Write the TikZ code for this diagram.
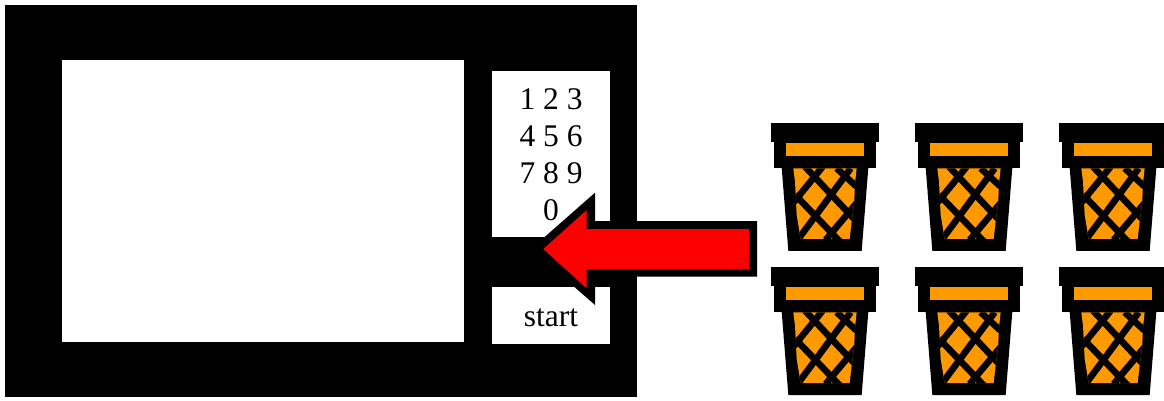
\documentclass[tikz,border=0pt]{standalone}
\usepackage{fontspec}
\setmainfont{Liberation Serif}
\definecolor{basketorange}{HTML}{FF9900}
\tikzset{
  panelfill/.style={fill=white,draw=none},
  label/.style={anchor=base,inner sep=0pt,font=\fontsize{31.5}{36}\selectfont},
  tile/.style={fill=basketorange,draw=none},
  meshbar/.style={draw=black,line width=6.6pt}
}
\newcommand{\basketpic}[2]{%
  \begin{scope}[shift={(#1,#2)},x=0.33333pt,y=-0.33333pt]
    \fill[black] (33,24) rectangle (357,81);
    \fill[black] (43,81) rectangle (347,158);
    \fill[black] (65,158) -- (325,158) -- (305,408) -- (85,408) -- cycle;
    \fill[tile] (78,83) rectangle (312,123);
    \begin{scope}
      \clip (100,160) -- (290,160) -- (285,205) -- (283,255) -- (275,320) -- (269,372) -- (122,372) -- (110,300) -- (105,200) -- cycle;
      \fill[tile] (90,150) rectangle (300,380);
      \draw[meshbar] (135,155) -- (290,320);
      \draw[meshbar] (105,239) -- (240,380);
      \draw[meshbar] (230,160) -- (290,215);
      \draw[meshbar] (188,155) -- (100,263);
      \draw[meshbar] (272,160) -- (115,372);
      \draw[meshbar] (295,258) -- (197,375);
    \end{scope}
  \end{scope}}
\begin{document}
\begin{tikzpicture}[x=1pt,y=-1pt]
  \useasboundingbox (0,0) rectangle (1164,401);
  \fill[white] (0,0) rectangle (1164,401);
  % microwave
  \fill[black] (5,5) rectangle (637,397);
  \fill[panelfill] (62,60) rectangle (464,342);
  \fill[panelfill] (492,71) rectangle (610,237);
  \fill[panelfill] (492,286.5) rectangle (610,344);
  % keypad
  \node[label] (row1) at (551,110) {1 2 3};
  \node[label] (row2) at (551,146.7) {4 5 6};
  \node[label] (row3) at (551,183.4) {7 8 9};
  \node[label] (row4) at (551,220) {0};
  \node[label] (startlabel) at (551,326) {start};
  % arrow
  \fill[black] (757,221) -- (595,221) -- (595,192.7) -- (531,249) -- (595,305) -- (595,276.7) -- (757,276.7) -- cycle;
  \fill[red] (749,229) -- (586.7,229) -- (586.7,210) -- (543.3,249) -- (586.7,288.3) -- (586.7,269) -- (749,269) -- cycle;
  % baskets
  \foreach \dx in {760,904,1048}{
    \foreach \dy in {115,259}{
      \basketpic{\dx}{\dy}
    }
  }
\end{tikzpicture}
\end{document}
